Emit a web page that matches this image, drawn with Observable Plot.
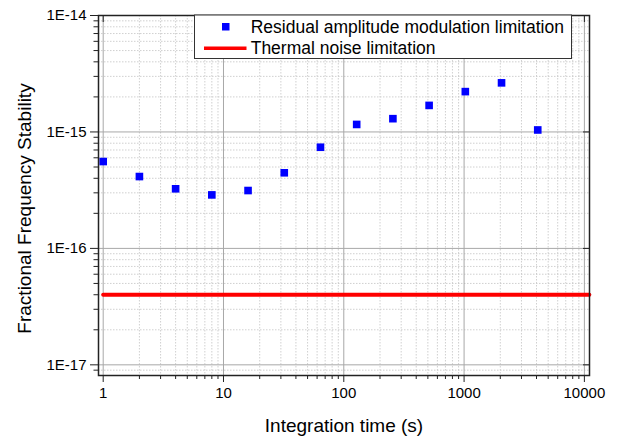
<!DOCTYPE html>
<html>
<head>
<meta charset="utf-8">
<script src="https://cdn.jsdelivr.net/npm/d3@7"></script>
<script src="https://cdn.jsdelivr.net/npm/@observablehq/plot@0.6"></script>
<style>
  html, body { margin: 0; padding: 0; background: #fff; }
  #chart svg { display: block; font-family: Arial, "Liberation Sans", sans-serif; }
</style>
</head>
<body>
<div id="chart"></div>
<script>
// ---- data ----
const tau = [1, 2, 4, 8, 16, 32, 64, 128, 256, 512, 1024, 2048, 4096];
const ramStability = [5.57e-16, 4.14e-16, 3.25e-16, 2.88e-16, 3.14e-16, 4.46e-16, 7.39e-16,
  1.16e-15, 1.30e-15, 1.69e-15, 2.22e-15, 2.64e-15, 1.04e-15];
const thermalTau = [1, 11000];
const thermalStability = [4e-17, 4e-17];

const xMajorTicks = [1, 10, 100, 1000, 10000];
const xTickLabels = ["1", "10", "100", "1000", "10000"];
const yMajorTicks = [1e-17, 1e-16, 1e-15, 1e-14];
const yTickLabels = ["1E-17", "1E-16", "1E-15", "1E-14"];
const xMinorTicks = [2,3,4,5,6,7,8,9,20,30,40,50,60,70,80,90,200,300,400,500,600,700,800,900,2000,3000,4000,5000,6000,7000,8000,9000];
const yMinorTicks = [9e-18,
  2e-17,3e-17,4e-17,5e-17,6e-17,7e-17,8e-17,9e-17,
  2e-16,3e-16,4e-16,5e-16,6e-16,7e-16,8e-16,9e-16,
  2e-15,3e-15,4e-15,5e-15,6e-15,7e-15,8e-15,9e-15];

const seriesNames = ["Residual amplitude modulation limitation", "Thermal noise limitation"];
const xTitle = "Integration time (s)";
const yTitle = "Fractional Frequency Stability";

const ramData = tau.map((t, i) => ({x: t, y: ramStability[i]}));
const thermalData = thermalTau.map((t, i) => ({x: t, y: thermalStability[i]}));

const font = "Arial, 'Liberation Sans', sans-serif";

const chart = Plot.plot({
  width: 618,
  height: 439,
  marginLeft: 98,
  marginRight: 29,
  marginTop: 15,
  marginBottom: 64,
  style: {fontFamily: font, background: "#fff", color: "#000"},
  x: {type: "log", domain: [0.914, 11030]},
  y: {type: "log", domain: [8.1e-18, 1e-14]},
  marks: [
    Plot.gridX(xMinorTicks, {stroke: "#c4c4c4", strokeOpacity: 1, strokeWidth: 0.8, strokeDasharray: "1.5,1.5"}),
    Plot.gridY(yMinorTicks, {stroke: "#c4c4c4", strokeOpacity: 1, strokeWidth: 0.8, strokeDasharray: "1.5,1.5"}),
    Plot.gridX(xMajorTicks, {stroke: "#a8a8a8", strokeOpacity: 1, strokeWidth: 1}),
    Plot.gridY(yMajorTicks, {stroke: "#a8a8a8", strokeOpacity: 1, strokeWidth: 1}),
    Plot.line(thermalData, {x: "x", y: "y", stroke: "#ff0000", strokeWidth: 4}),
    Plot.dot(ramData, {x: "x", y: "y", symbol: "square", r: 4.3, fill: "#0000ff", stroke: "none"}),
    Plot.frame({stroke: "#222", strokeWidth: 1.5}),
    Plot.axisY(yMajorTicks, {anchor: "left", tickSize: 8, tickPadding: 4, fontSize: 15, stroke: "#222",
      tickFormat: (d) => yTickLabels[yMajorTicks.indexOf(d)], label: null}),
    Plot.axisY(yMinorTicks, {anchor: "left", tickSize: 4.5, stroke: "#222", tickFormat: () => "", label: null}),
    Plot.axisX(xMajorTicks, {anchor: "bottom", tickSize: 7, tickPadding: 5, fontSize: 15, stroke: "#222",
      tickFormat: (d) => xTickLabels[xMajorTicks.indexOf(d)], label: null}),
    Plot.axisX(xMinorTicks, {anchor: "bottom", tickSize: 4, stroke: "#222", tickFormat: () => "", label: null}),
    Plot.axisX(xMajorTicks, {anchor: "top", tickSize: -6, stroke: "#222", tickFormat: () => "", label: null}),
    Plot.axisY(yMajorTicks, {anchor: "right", tickSize: -7, stroke: "#222", tickFormat: () => "", label: null}),
    Plot.text([xTitle], {frameAnchor: "bottom", dy: 50, fontSize: 19, fill: "#000", lineAnchor: "middle", textAnchor: "middle"}),
    Plot.text([yTitle], {frameAnchor: "left", dx: -74, dy: 13, rotate: -90, fontSize: 19, fill: "#000", lineAnchor: "middle", textAnchor: "middle"})
  ]
});

document.getElementById("chart").appendChild(chart);

// ---- legend box (layout overlay) ----
const svg = d3.select(chart);
const lg = svg.append("g").attr("font-family", font).attr("font-size", 17.5).attr("text-anchor", "start");
lg.append("rect").attr("x", 194.5).attr("y", 15).attr("width", 377).attr("height", 43.5)
  .attr("fill", "#fff").attr("stroke", "#333").attr("stroke-width", 1);
lg.append("rect").attr("x", 222).attr("y", 23).attr("width", 7.5).attr("height", 7.5).attr("fill", "#0000ff");
lg.append("line").attr("x1", 204).attr("x2", 246.5).attr("y1", 48.3).attr("y2", 48.3)
  .attr("stroke", "#ff0000").attr("stroke-width", 3.5);
lg.append("text").attr("x", 250.7).attr("y", 33.3).attr("text-anchor", "start").attr("fill", "#000").text(seriesNames[0]);
lg.append("text").attr("x", 250.7).attr("y", 54).attr("text-anchor", "start").attr("fill", "#000").text(seriesNames[1]);
</script>
</body>
</html>
